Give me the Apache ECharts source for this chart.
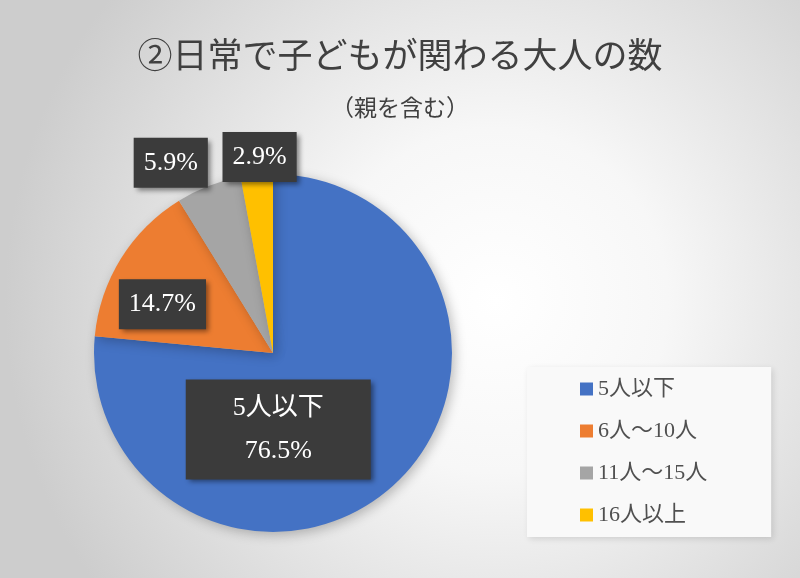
<!DOCTYPE html>
<html>
<head>
<meta charset="utf-8">
<script src="https://cdn.jsdelivr.net/npm/echarts@6/dist/echarts.min.js"></script>
<style>html,body{margin:0;padding:0;}#chart{width:800px;height:578px;}</style>
</head>
<body>
<div id="chart"></div>
<script>
const titleText = '②日常で子どもが関わる大人の数';
const subtitleText = '（親を含む）';
const categories = ['5人以下', '6人～10人', '11人～15人', '16人以上'];
const values = [76.5, 14.7, 5.9, 2.9];
const colors = ['#4472C4', '#ED7D31', '#A5A5A5', '#FFC000'];

const serif = "'Liberation Serif', 'Noto Sans CJK JP', serif";
const labelStyles = [
  { offset: [-57, 8], padding: [7, 47], lineHeight: 43, showName: true },
  { offset: [-32, 0], padding: [11, 10], lineHeight: 28, showName: false },
  { offset: [-69, -104], padding: [11, 10], lineHeight: 28, showName: false },
  { offset: [-5, -104], padding: [11, 10], lineHeight: 28, showName: false }
];

const data = categories.map((name, i) => ({
  name: name,
  value: values[i],
  itemStyle: { color: colors[i] },
  label: {
    offset: labelStyles[i].offset,
    padding: labelStyles[i].padding,
    lineHeight: labelStyles[i].lineHeight,
    formatter: labelStyles[i].showName
      ? (p) => p.name + '\n' + p.value.toFixed(1) + '%'
      : (p) => p.value.toFixed(1) + '%'
  }
}));

const chart = echarts.init(document.getElementById('chart'), null, { renderer: 'canvas' });
chart.setOption({
  animation: false,
  backgroundColor: {
    type: 'radial', x: 0.62, y: 0.52, r: 0.85,
    colorStops: [
      { offset: 0, color: '#ffffff' },
      { offset: 0.35, color: '#f7f7f7' },
      { offset: 1, color: '#cdcdcd' }
    ]
  },
  title: [
    {
      text: titleText, left: 'center', top: 32,
      textStyle: { fontFamily: "'Noto Sans CJK JP', sans-serif", fontSize: 35, fontWeight: 'normal', color: '#404040' }
    },
    {
      text: subtitleText, left: 'center', top: 91,
      textStyle: { fontFamily: "'Noto Sans CJK JP', sans-serif", fontSize: 23, fontWeight: 'normal', color: '#404040' }
    }
  ],
  legend: {
    orient: 'vertical',
    left: 527, top: 367,
    padding: [11, 64, 11, 53],
    itemWidth: 13, itemHeight: 13, itemGap: 20,
    icon: 'rect',
    backgroundColor: '#f9f9f9',
    shadowBlur: 6, shadowColor: 'rgba(0,0,0,0.12)', shadowOffsetX: 2, shadowOffsetY: 2,
    data: categories,
    textStyle: { fontFamily: serif, fontSize: 22, color: '#505050' }
  },
  series: [{
    type: 'pie',
    center: [273, 353],
    radius: 179,
    startAngle: 90,
    clockwise: true,
    avoidLabelOverlap: false,
    itemStyle: { shadowBlur: 12, shadowColor: 'rgba(0,0,0,0.25)', shadowOffsetX: 3, shadowOffsetY: 3 },
    label: {
      show: true,
      position: 'inside',
      color: '#ffffff',
      fontFamily: serif,
      fontSize: 26,
      backgroundColor: '#3b3b3b',
      shadowBlur: 5, shadowColor: 'rgba(0,0,0,0.45)', shadowOffsetX: 3, shadowOffsetY: 3,
      textShadowColor: 'transparent'
    },
    labelLine: { show: false },
    emphasis: { disabled: true },
    data: data
  }]
});
</script>
</body>
</html>
